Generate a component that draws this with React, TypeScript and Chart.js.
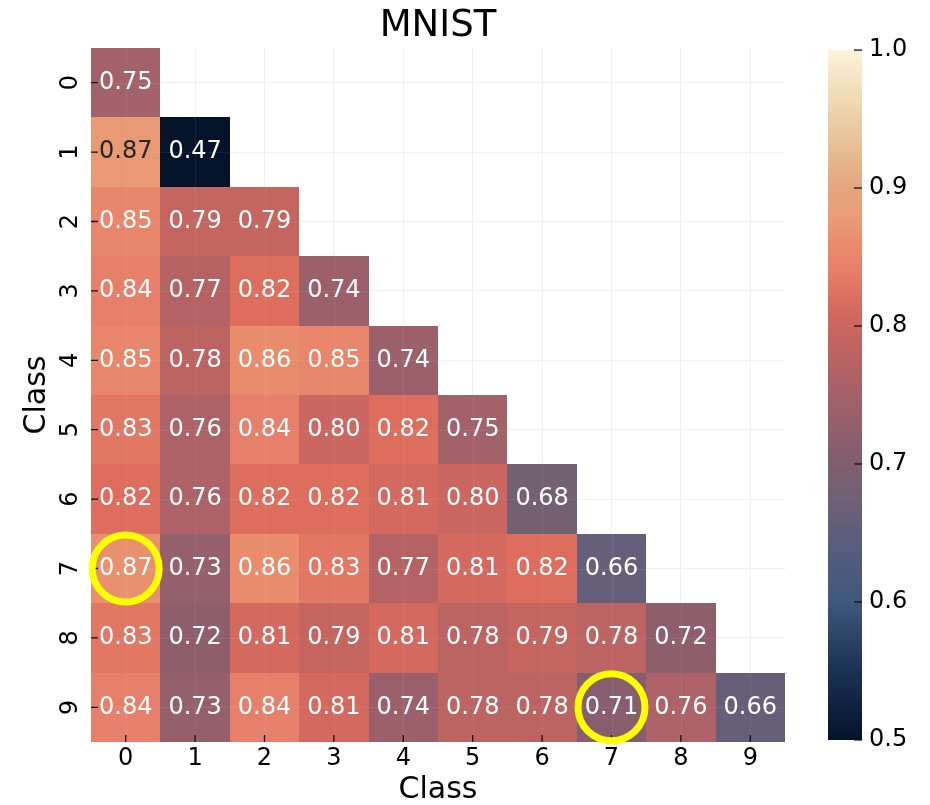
import React, { useEffect, useRef } from "react";
import { Chart, registerables } from "chart.js";

Chart.register(...registerables);

// ---------- data ----------
const classLabels = ["0", "1", "2", "3", "4", "5", "6", "7", "8", "9"];
const row0 = [0.75];
const row1 = [0.874, 0.47];
const row2 = [0.85, 0.79, 0.79];
const row3 = [0.84, 0.77, 0.82, 0.74];
const row4 = [0.85, 0.78, 0.86, 0.85, 0.74];
const row5 = [0.83, 0.76, 0.84, 0.8, 0.82, 0.75];
const row6 = [0.82, 0.76, 0.82, 0.82, 0.81, 0.8, 0.68];
const row7 = [0.866, 0.73, 0.86, 0.83, 0.77, 0.81, 0.82, 0.66];
const row8 = [0.83, 0.72, 0.81, 0.79, 0.81, 0.78, 0.79, 0.78, 0.72];
const row9 = [0.84, 0.73, 0.84, 0.81, 0.74, 0.78, 0.78, 0.71, 0.76, 0.66];
const matrixRows = [row0, row1, row2, row3, row4, row5, row6, row7, row8, row9];
const colorbarTicks = [0.5, 0.6, 0.7, 0.8, 0.9, 1.0];
const circledCols = [0, 7];
const circledRows = [7, 9];
const chartTitle = "MNIST";
const axisTitle = "Class";

// ---------- style ----------
const FONT = "DejaVu Sans";
const VMIN = 0.5;
const VMAX = 1.0;
const cmapStops: [number, string][] = [
  [0.5, "#03132a"],
  [0.55, "#1a3253"],
  [0.6, "#3e587b"],
  [0.65, "#5e5e7c"],
  [0.68, "#746073"],
  [0.7, "#7f5e70"],
  [0.72, "#8e5e6c"],
  [0.75, "#a36169"],
  [0.77, "#b46264"],
  [0.79, "#c4655f"],
  [0.8, "#cb6660"],
  [0.82, "#dd6e5e"],
  [0.84, "#e6806a"],
  [0.86, "#e98c6c"],
  [0.88, "#e99e77"],
  [0.9, "#e3a67d"],
  [0.95, "#ebcfa6"],
  [1.0, "#fcf3d9"],
];

function hexToRgb(h: string): number[] {
  const n = parseInt(h.slice(1), 16);
  return [(n >> 16) & 255, (n >> 8) & 255, n & 255];
}

function colorFor(v: number): number[] {
  const x = Math.max(VMIN, Math.min(VMAX, v));
  for (let i = 0; i < cmapStops.length - 1; i++) {
    const [a, ca] = cmapStops[i];
    const [b, cb] = cmapStops[i + 1];
    if (x >= a && x <= b) {
      const t = (x - a) / (b - a);
      const A = hexToRgb(ca);
      const B = hexToRgb(cb);
      return A.map((c, k) => Math.round(c + (B[k] - c) * t));
    }
  }
  return hexToRgb(cmapStops[cmapStops.length - 1][1]);
}

function luminance(rgb: number[]): number {
  const lin = rgb.map((c) => {
    const s = c / 255;
    return s <= 0.03928 ? s / 12.92 : Math.pow((s + 0.055) / 1.055, 2.4);
  });
  return 0.2126 * lin[0] + 0.7152 * lin[1] + 0.0722 * lin[2];
}

const rgbStr = (c: number[]) => `rgb(${c[0]},${c[1]},${c[2]})`;

const heatmapPlugin = {
  id: "heatmapCells",
  beforeDatasetsDraw(chart: any) {
    const { ctx, chartArea, scales } = chart;
    const xs = scales.x;
    const ys = scales.y;
    const cb = scales.cb;
    ctx.save();

    // cells
    matrixRows.forEach((row, r) => {
      row.forEach((v, c) => {
        const x0 = Math.round(xs.getPixelForValue(c - 0.5));
        const x1 = Math.round(xs.getPixelForValue(c + 0.5));
        const ya = Math.round(ys.getPixelForValue(r - 0.5));
        const yb = Math.round(ys.getPixelForValue(r + 0.5));
        ctx.fillStyle = rgbStr(colorFor(v));
        ctx.fillRect(x0, Math.min(ya, yb), x1 - x0, Math.abs(yb - ya));
      });
    });

    // faint grid over cells
    ctx.strokeStyle = "rgba(255,255,255,0.07)";
    ctx.lineWidth = 1;
    classLabels.forEach((_, i) => {
      const px = Math.round(xs.getPixelForValue(i)) + 0.5;
      const py = Math.round(ys.getPixelForValue(i)) + 0.5;
      ctx.beginPath();
      ctx.moveTo(px, chartArea.top);
      ctx.lineTo(px, chartArea.bottom);
      ctx.moveTo(chartArea.left, py);
      ctx.lineTo(chartArea.right, py);
      ctx.stroke();
    });

    // annotations
    ctx.font = `24px "${FONT}"`;
    ctx.textAlign = "center";
    ctx.textBaseline = "middle";
    matrixRows.forEach((row, r) => {
      row.forEach((v, c) => {
        const lum = luminance(colorFor(v));
        ctx.fillStyle = lum > 0.408 ? "#262626" : "#ffffff";
        ctx.fillText(v.toFixed(2), xs.getPixelForValue(c), ys.getPixelForValue(r));
      });
    });

    // inward tick marks on x and y axes
    ctx.strokeStyle = "#111";
    ctx.lineWidth = 1.3;
    classLabels.forEach((_, i) => {
      const px = xs.getPixelForValue(i);
      const py = ys.getPixelForValue(i);
      ctx.beginPath();
      ctx.moveTo(px, chartArea.bottom);
      ctx.lineTo(px, chartArea.bottom - 7);
      ctx.moveTo(chartArea.left, py);
      ctx.lineTo(chartArea.left + 7, py);
      ctx.stroke();
    });

    // rotated y tick labels
    ctx.fillStyle = "#000";
    ctx.font = `24px "${FONT}"`;
    ctx.textAlign = "center";
    ctx.textBaseline = "middle";
    classLabels.forEach((lab, i) => {
      const py = ys.getPixelForValue(i);
      ctx.save();
      ctx.translate(71, py);
      ctx.rotate(-Math.PI / 2);
      ctx.fillText(lab, 0, 0);
      ctx.restore();
    });

    // colorbar
    const barRight = cb.left;
    const barLeft = cb.left - 34;
    const yTop = cb.getPixelForValue(VMAX);
    const yBot = cb.getPixelForValue(VMIN);
    for (let y = Math.floor(yTop); y < Math.ceil(yBot); y++) {
      const v = cb.getValueForPixel(y + 0.5);
      ctx.fillStyle = rgbStr(colorFor(v));
      ctx.fillRect(barLeft, y, barRight - barLeft, 1);
    }
    ctx.strokeStyle = "#111";
    ctx.lineWidth = 1.3;
    colorbarTicks.forEach((t) => {
      const py = cb.getPixelForValue(t);
      ctx.beginPath();
      ctx.moveTo(barRight - 8, py);
      ctx.lineTo(barRight, py);
      ctx.stroke();
    });

    // highlight circles
    ctx.strokeStyle = "#ffff00";
    ctx.lineWidth = 7;
    circledCols.forEach((c, k) => {
      const cx = xs.getPixelForValue(c);
      const cy = ys.getPixelForValue(circledRows[k]);
      ctx.beginPath();
      ctx.arc(cx, cy, 33.5, 0, Math.PI * 2);
      ctx.stroke();
    });

    ctx.restore();
  },
};

export default function App() {
  const canvasRef = useRef<HTMLCanvasElement | null>(null);

  useEffect(() => {
    document.body.style.margin = "0";
    const canvas = canvasRef.current;
    if (!canvas) return;
    const tickFont = { family: FONT, size: 24, lineHeight: 1 };
    const classTicks = (s: any) => {
      s.ticks = classLabels.map((_, i) => ({ value: i }));
    };
    const chart = new Chart(canvas, {
      type: "scatter",
      data: { datasets: [{ data: [], pointRadius: 0 }] },
      plugins: [heatmapPlugin],
      options: {
        responsive: false,
        animation: false,
        layout: { padding: 0 },
        plugins: {
          legend: { display: false },
          tooltip: { enabled: false },
          title: {
            display: true,
            text: chartTitle,
            fullSize: false,
            color: "#000",
            font: { family: FONT, size: 37, weight: "normal", lineHeight: 1 },
            padding: { top: 8, bottom: 3 },
          },
        },
        scales: {
          x: {
            type: "linear",
            position: "bottom",
            min: -0.5,
            max: 9.5,
            afterBuildTicks: classTicks,
            afterFit: (s: any) => {
              s.height = 63;
            },
            ticks: {
              autoSkip: false,
              maxRotation: 0,
              minRotation: 0,
              color: "#000",
              font: tickFont,
              padding: 5,
              callback: (_v: any, i: number) => classLabels[i],
            },
            grid: { color: "#f0f0f0", lineWidth: 1, drawTicks: false },
            border: { display: false },
            title: {
              display: true,
              text: axisTitle,
              color: "#000",
              font: { family: FONT, size: 30, lineHeight: 1 },
              padding: { top: 0, bottom: 0 },
            },
          },
          y: {
            type: "linear",
            position: "left",
            reverse: true,
            min: -0.5,
            max: 9.5,
            afterBuildTicks: classTicks,
            afterFit: (s: any) => {
              s.width = 91;
            },
            ticks: { display: false },
            grid: { color: "#f0f0f0", lineWidth: 1, drawTicks: false },
            border: { display: false },
            title: {
              display: true,
              text: axisTitle,
              color: "#000",
              font: { family: FONT, size: 30, lineHeight: 1 },
              padding: { top: 22, bottom: 0 },
            },
          },
          gap: {
            type: "linear",
            position: "right",
            weight: 0,
            min: 0,
            max: 1,
            display: true,
            afterFit: (s: any) => {
              s.width = 77;
            },
            ticks: { display: false },
            grid: { display: false, drawTicks: false },
            border: { display: false },
          },
          cb: {
            type: "linear",
            position: "right",
            weight: 1,
            min: 0.4985,
            max: 1.0015,
            afterBuildTicks: (s: any) => {
              s.ticks = colorbarTicks.map((v) => ({ value: v }));
            },
            afterFit: (s: any) => {
              s.width = 68;
            },
            ticks: {
              color: "#000",
              font: tickFont,
              padding: 7,
              callback: (v: any) => Number(v).toFixed(1),
            },
            grid: { display: false, drawTicks: false },
            border: { display: false },
          },
        },
      } as any,
    });
    return () => chart.destroy();
  }, []);

  return (
    <div style={{ width: 930, height: 805, overflow: "hidden" }}>
      <canvas ref={canvasRef} width={930} height={805} style={{ display: "block" }} />
    </div>
  );
}
